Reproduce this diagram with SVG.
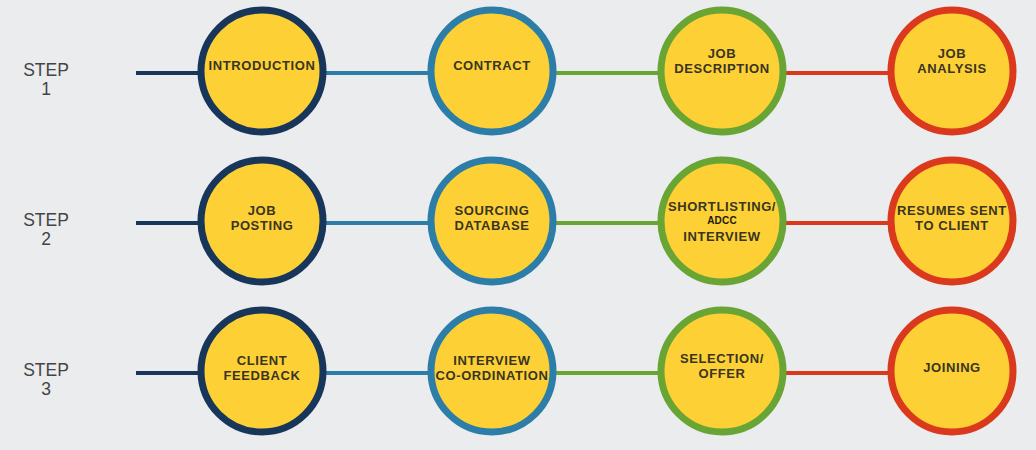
<svg xmlns="http://www.w3.org/2000/svg" width="1036" height="450" viewBox="0 0 1036 450">
<style>
.bg{fill:#EBECEE}
.c{fill:#FDD135;stroke-width:7}
.navy{stroke:#17365A}
.blue{stroke:#2D7DA9}
.green{stroke:#69A534}
.red{stroke:#DA391D}
.ln{stroke-width:4;fill:none}
.t{font-family:"Liberation Sans",Arial,sans-serif;font-weight:bold;font-size:13px;letter-spacing:0.6px;fill:#3A3422;text-anchor:middle}
.s{font-size:10px;letter-spacing:0.2px;fill:#1E1A10}
.st{font-family:"Liberation Sans",Arial,sans-serif;font-size:17.5px;fill:#444;text-anchor:middle}
</style>
<rect class="bg" x="0" y="0" width="1036" height="450"/>
<g id="connectors">
<line class="ln navy" x1="136" y1="73" x2="200" y2="73"/>
<line class="ln blue" x1="324" y1="73" x2="430" y2="73"/>
<line class="ln green" x1="554" y1="73" x2="660" y2="73"/>
<line class="ln red" x1="784" y1="73" x2="890" y2="73"/>
<line class="ln navy" x1="136" y1="223" x2="200" y2="223"/>
<line class="ln blue" x1="324" y1="223" x2="430" y2="223"/>
<line class="ln green" x1="554" y1="223" x2="660" y2="223"/>
<line class="ln red" x1="784" y1="223" x2="890" y2="223"/>
<line class="ln navy" x1="136" y1="373" x2="200" y2="373"/>
<line class="ln blue" x1="324" y1="373" x2="430" y2="373"/>
<line class="ln green" x1="554" y1="373" x2="660" y2="373"/>
<line class="ln red" x1="784" y1="373" x2="890" y2="373"/>
</g>
<g id="step1"><text class="st" x="46" y="76">STEP</text><text class="st" x="46" y="95">1</text></g>
<g id="step2"><text class="st" x="46" y="226">STEP</text><text class="st" x="46" y="245">2</text></g>
<g id="step3"><text class="st" x="46" y="376">STEP</text><text class="st" x="46" y="395">3</text></g>

<g id="introduction"><circle class="c navy" cx="262" cy="71" r="61"/><text class="t" x="262" y="70">INTRODUCTION</text></g>
<g id="contract"><circle class="c blue" cx="492" cy="71" r="61"/><text class="t" x="492" y="70">CONTRACT</text></g>
<g id="job-description"><circle class="c green" cx="722" cy="71" r="61"/><text class="t" x="722" y="58">JOB</text><text class="t" x="722" y="73">DESCRIPTION</text></g>
<g id="job-analysis"><circle class="c red" cx="952" cy="71" r="61"/><text class="t" x="952" y="58">JOB</text><text class="t" x="952" y="73">ANALYSIS</text></g>

<g id="job-posting"><circle class="c navy" cx="262" cy="221" r="61"/><text class="t" x="262" y="215">JOB</text><text class="t" x="262" y="230">POSTING</text></g>
<g id="sourcing-database"><circle class="c blue" cx="492" cy="221" r="61"/><text class="t" x="492" y="215">SOURCING</text><text class="t" x="492" y="230">DATABASE</text></g>
<g id="shortlisting"><circle class="c green" cx="722" cy="221" r="61"/><text class="t" x="722" y="211">SHORTLISTING/</text><text class="t s" x="722" y="224">ADCC</text><text class="t" x="722" y="241">INTERVIEW</text></g>
<g id="resumes-sent"><circle class="c red" cx="952" cy="221" r="61"/><text class="t" x="952" y="215">RESUMES SENT</text><text class="t" x="952" y="230">TO CLIENT</text></g>

<g id="client-feedback"><circle class="c navy" cx="262" cy="371" r="61"/><text class="t" x="262" y="365">CLIENT</text><text class="t" x="262" y="380">FEEDBACK</text></g>
<g id="interview-coordination"><circle class="c blue" cx="492" cy="371" r="61"/><text class="t" x="492" y="365">INTERVIEW</text><text class="t" x="492" y="380">CO-ORDINATION</text></g>
<g id="selection-offer"><circle class="c green" cx="722" cy="371" r="61"/><text class="t" x="722" y="363">SELECTION/</text><text class="t" x="722" y="378">OFFER</text></g>
<g id="joining"><circle class="c red" cx="952" cy="371" r="61"/><text class="t" x="952" y="372">JOINING</text></g>
</svg>
